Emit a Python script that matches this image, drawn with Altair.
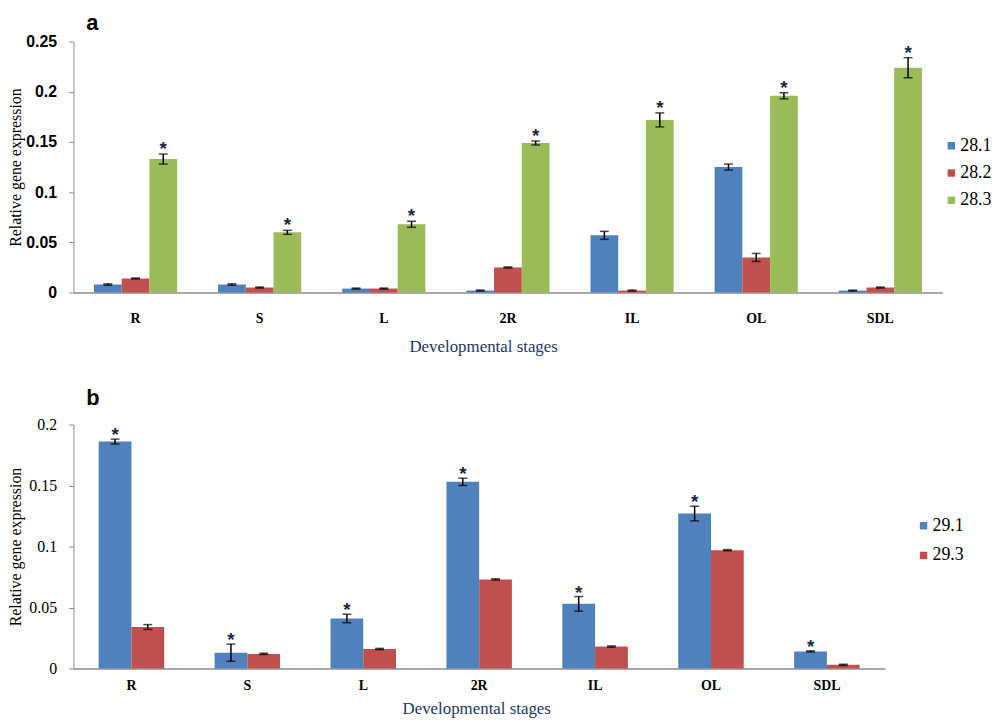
import altair as alt
import pandas as pd

stages = ["R", "S", "L", "2R", "IL", "OL", "SDL"]

# Panel a
series_a = ["28.1", "28.2", "28.3"]
a_281 = [0.008, 0.008, 0.004, 0.002, 0.057, 0.125, 0.002]
a_282 = [0.014, 0.005, 0.004, 0.025, 0.002, 0.035, 0.005]
a_283 = [0.133, 0.060, 0.068, 0.149, 0.172, 0.196, 0.224]
a_281_err = [0.0007, 0.0007, 0.0005, 0.0005, 0.004, 0.003, 0.0005]
a_282_err = [0.0005, 0.0005, 0.0005, 0.0005, 0.0005, 0.004, 0.0005]
a_283_err = [0.005, 0.002, 0.003, 0.002, 0.007, 0.003, 0.010]
stars_a = ["28.3"]

# Panel b
series_b = ["29.1", "29.3"]
b_291 = [0.186, 0.013, 0.041, 0.153, 0.053, 0.127, 0.014]
b_293 = [0.034, 0.012, 0.016, 0.073, 0.018, 0.097, 0.003]
b_291_err = [0.002, 0.007, 0.0035, 0.003, 0.006, 0.006, 0.0005]
b_293_err = [0.002, 0.0005, 0.0005, 0.0005, 0.0005, 0.0005, 0.0005]
stars_b = ["29.1"]

colors_a = ["#4F81BD", "#C0504D", "#9BBB59"]
colors_b = ["#4F81BD", "#C0504D"]

y_ticks_a = [0, 0.05, 0.1, 0.15, 0.2, 0.25]
y_ticks_b = [0, 0.05, 0.1, 0.15, 0.2]


def build(series, vals, errs, stars):
    rows = []
    for s, v_list, e_list in zip(series, vals, errs):
        for st, v, e in zip(stages, v_list, e_list):
            rows.append(dict(stage=st, series=s, value=v, lo=v - e, hi=v + e,
                             star=s in stars))
    return pd.DataFrame(rows)


df_a = build(series_a, [a_281, a_282, a_283], [a_281_err, a_282_err, a_283_err], stars_a)
df_b = build(series_b, [b_291, b_293], [b_291_err, b_293_err], stars_b)

SERIF = "Liberation Serif"
SANS = "Liberation Sans"
TITLE = "Relative gene expression"
XTITLE = "Developmental stages"


def panel(df, series, colors, ticks, ymax, width, height, pin, letter,
          ylab_font, ylab_weight, ylab_size, xlab_pad, xtitle_y, xtitle_x,
          leg_x, leg_y, leg_row, star_dy, letter_offset):
    x = alt.X("stage:N", sort=stages,
              scale=alt.Scale(paddingInner=pin, paddingOuter=pin / 2),
              axis=alt.Axis(title=XTITLE, labelAngle=0, ticks=False, tickSize=0,
                            labelFont=SERIF, labelFontWeight="bold", labelFontSize=14,
                            labelColor="black", labelPadding=xlab_pad,
                            domainColor="#8c8c8c", domainWidth=1.5,
                            titleFont=SERIF, titleFontSize=17, titleFontWeight="normal",
                            titleColor="#1F3864", titleX=xtitle_x, titleY=xtitle_y,
                            titleBaseline="middle", titleAlign="center"))
    xo = alt.XOffset("series:N", sort=series,
                     scale=alt.Scale(paddingInner=0, paddingOuter=0))
    yscale = alt.Scale(domain=[0, ymax], nice=False)
    yaxis = alt.Axis(title=TITLE, values=ticks, format=".2~f", grid=False,
                     labelFont=ylab_font, labelFontWeight=ylab_weight,
                     labelFontSize=ylab_size, labelColor="black", labelPadding=12,
                     tickSize=5, tickColor="#8c8c8c", domainColor="#8c8c8c",
                     titleFont=SERIF, titleFontSize=16, titleFontWeight="normal",
                     titleColor="black", titleAngle=270, titleX=-58,
                     titleY=height / 2, titleAlign="center", titleBaseline="middle")
    base = alt.Chart(df).encode(x=x, xOffset=xo)
    bars = base.mark_bar().encode(
        y=alt.Y("value:Q", scale=yscale, axis=yaxis),
        color=alt.Color("series:N", sort=series,
                        scale=alt.Scale(domain=series, range=colors),
                        legend=alt.Legend(title=None, orient="none", legendX=leg_x,
                                          legendY=leg_y, symbolType="square",
                                          symbolSize=56, symbolStrokeWidth=0,
                                          labelFont=SERIF, labelFontSize=18,
                                          labelColor="black", labelOffset=0,
                                          rowPadding=leg_row, padding=0)),
    )
    rule = base.mark_rule(color="black", strokeWidth=1.5).encode(
        y=alt.Y("lo:Q", scale=yscale, title=TITLE), y2="hi:Q")
    cap_lo = base.mark_tick(color="black", size=9, thickness=1.5).encode(
        y=alt.Y("lo:Q", scale=yscale, title=TITLE))
    cap_hi = base.mark_tick(color="black", size=9, thickness=1.5).encode(
        y=alt.Y("hi:Q", scale=yscale, title=TITLE))
    star = base.transform_filter("datum.star").mark_text(
        text="*", font=SANS, fontSize=19, fontWeight="bold", color="#1c2840",
        baseline="alphabetic", dy=star_dy).encode(
        y=alt.Y("hi:Q", scale=yscale, title=TITLE))
    return alt.layer(bars, rule, cap_lo, cap_hi, star).properties(
        width=width, height=height,
        title=alt.TitleParams(letter, anchor="start", frame="group", dx=13,
                              font=SANS, fontSize=22, fontWeight="bold",
                              color="black", baseline="alphabetic",
                              offset=letter_offset))


pa = panel(df_a, series_a, colors_a, y_ticks_a, 0.25, 876, 253, 0.33, "a",
           SANS, "bold", 16, 19, 54, 413, 876, 96, 9.5, 1, -18)
pb = panel(df_b, series_b, colors_b, y_ticks_b, 0.2, 818, 246, 0.435, "b",
           SERIF, "normal", 16, 10, 40, 406, 848, 93, 12, 2, -10)

chart = alt.vconcat(pa, pb, spacing=33).resolve_scale(
    color="independent", x="independent", y="independent", xOffset="independent"
).properties(
    padding={"left": 0, "top": 1, "right": 0, "bottom": 0}
).configure(background="white").configure_view(stroke=None)

chart.save("out.html", embed_options={"renderer": "svg", "actions": False})
